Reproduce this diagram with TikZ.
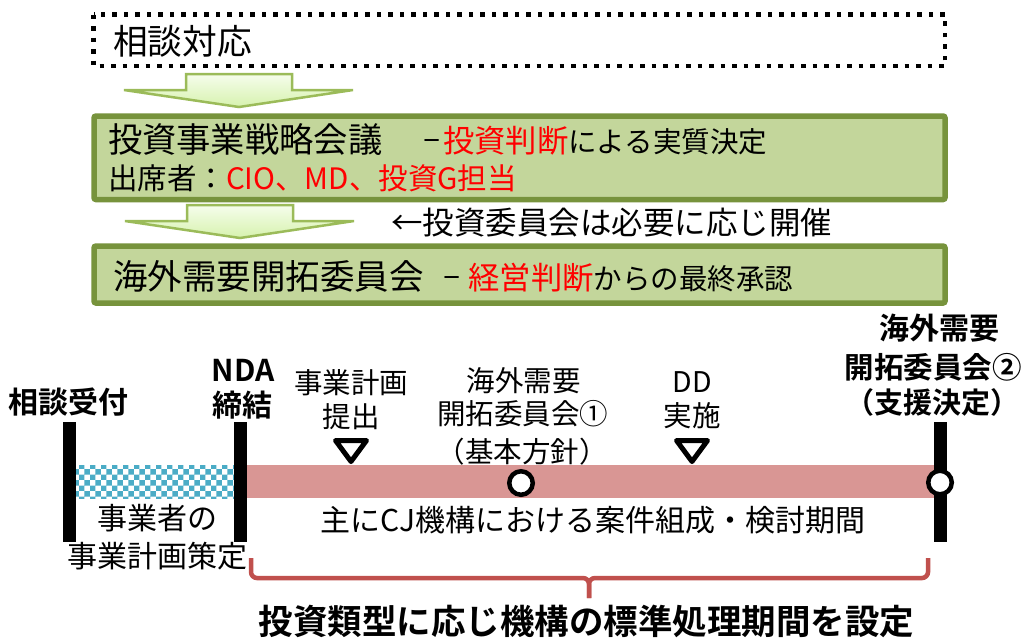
\documentclass[tikz,border=0pt]{standalone}
\usepackage{fontspec}
\setmainfont{Noto Sans CJK JP}[BoldFont={Noto Sans CJK JP Bold}]
\usetikzlibrary{patterns}
\definecolor{boxfill}{HTML}{C3D69B}
\definecolor{boxborder}{HTML}{77933C}
\definecolor{arrowborder}{HTML}{9BBB59}
\definecolor{arrowtop}{HTML}{F6FDEC}
\definecolor{arrowbot}{HTML}{D6F2AE}
\definecolor{pinkbar}{HTML}{D99694}
\definecolor{tealpat}{HTML}{4BACC6}
\definecolor{bracered}{HTML}{C0504D}
\newcommand{\myfs}[1]{\fontsize{#1pt}{#1pt}\selectfont}
\newcommand{\mydash}{\raisebox{3pt}{\myfs{32}–}}
\begin{document}
\begin{tikzpicture}[x=1pt,y=-1pt,
  lbl/.style={inner sep=0pt, outer sep=0pt},
  dotbox/.style={draw=black, line width=4.5pt, dash pattern=on 4.5pt off 7pt},
  gbox/.style={draw=boxborder, fill=boxfill, line width=5.5pt, rounded corners=2pt},
  blockarrow/.style={draw=arrowborder, line width=2.5pt, line join=miter, top color=arrowtop, bottom color=arrowbot},
  vbar/.style={draw=black, line width=13pt},
  tri/.style={draw=black, fill=white, line width=5pt, line join=round},
  ring/.style={circle, draw=black, fill=white, line width=4.5pt, minimum size=23.5pt, inner sep=0pt},
  brace/.style={draw=bracered, line width=4.5pt, rounded corners=6pt}
]
\useasboundingbox[fill=white] (0,0) rectangle (1022,638);

% --- top section ---
\draw[dotbox] (93.5,14.7) rectangle (945,66);
\node[lbl, anchor=west] (soudan) at (113,41.5) {\myfs{34.7}相談対応};

\draw[blockarrow] (186,74) -- (292,74) -- (292,90) -- (353,90) -- (239,107) -- (124,90) -- (186,90) -- cycle;

\draw[gbox] (94,116) rectangle (945,199.5);
\node[lbl, anchor=west] (senryaku) at (108,140) {\myfs{34.3}投資事業戦略会議\hspace{40.6pt}\mydash\hspace{3pt}\textcolor{red}{\myfs{31.3}投資判断}\myfs{28.5}による実質決定};
\node[lbl, anchor=west] (shusseki) at (108,178) {\myfs{29.5}出席者：\textcolor{red}{CIO、MD、投資G担当}};

\draw[blockarrow] (187,205) -- (293,205) -- (293,221) -- (354,221) -- (240,238) -- (125,221) -- (187,221) -- cycle;
\node[lbl, anchor=west] (toushi) at (391,222.5) {\myfs{31.5}←投資委員会は必要に応じ開催};

\draw[gbox] (94,246) rectangle (945,303);
\node[lbl, anchor=west] (kaigai) at (113,276) {\myfs{34.5}海外需要開拓委員会\hspace{19.5pt}\mydash\hspace{8.5pt}\textcolor{red}{\myfs{31.3}経営判断}\myfs{28.5}からの最終承認};

% --- timeline ---
\fill[white] (76,465) rectangle (234,498);
\fill[pattern=checkerboard, pattern color=tealpat] (76,465) rectangle (234,498);
\fill[pinkbar] (247,465) rectangle (940,498);

\draw[vbar] (69.5,422) -- (69.5,542);
\draw[vbar] (240.5,422) -- (240.5,542);
\draw[vbar] (940.5,422) -- (940.5,542);

\draw[tri] (335.5,440.5) -- (366.5,440.5) -- (351,461.5) -- cycle;
\draw[tri] (676.5,440.5) -- (707.5,440.5) -- (692,461.5) -- cycle;
\node[ring] (c1) at (521,483) {};
\node[ring] (c2) at (940,482.5) {};

% labels
\node[lbl] (uketsuke) at (68.5,402) {\myfs{30}\bfseries 相談受付};
\node[lbl] (nda) at (243,370.5) {\myfs{30}\bfseries NDA};
\node[lbl] (teiketsu) at (242.5,405.5) {\myfs{30}\bfseries 締結};
\node[lbl] (keikaku1) at (351,383) {\myfs{28.5}事業計画};
\node[lbl] (teishutsu) at (351,416.5) {\myfs{28.5}提出};
\node[lbl] (iin1a) at (523.5,381) {\myfs{28.5}海外需要};
\node[lbl] (iin1b) at (522.5,414) {\myfs{28.5}開拓委員会①};
\node[lbl] (iin1c) at (522,452) {\myfs{28.5}（基本方針）};
\node[lbl] (dd) at (692,382) {\myfs{28.5}DD};
\node[lbl] (jisshi) at (692,416) {\myfs{28.5}実施};
\node[lbl] (iin2a) at (939,328) {\myfs{30}\bfseries 海外需要};
\node[lbl] (iin2b) at (933,367) {\myfs{29.5}\bfseries 開拓委員会②};
\node[lbl] (iin2c) at (932,402) {\myfs{29}\bfseries （支援決定）};
\node[lbl] (jigyousha) at (157,518) {\myfs{30}事業者の};
\node[lbl] (sakutei) at (157,556) {\myfs{30}事業計画策定};
\node[lbl] (kentou) at (593,520) {\myfs{30}主にCJ機構における案件組成・検討期間};

% brace
\draw[brace] (251,558) |- (589,578) -- (589,598);
\draw[brace] (928,558) |- (589,578) -- (589,598);
\node[lbl] (hyoujun) at (586.5,621) {\myfs{34.5}\bfseries 投資類型に応じ機構の標準処理期間を設定};
\end{tikzpicture}
\end{document}
